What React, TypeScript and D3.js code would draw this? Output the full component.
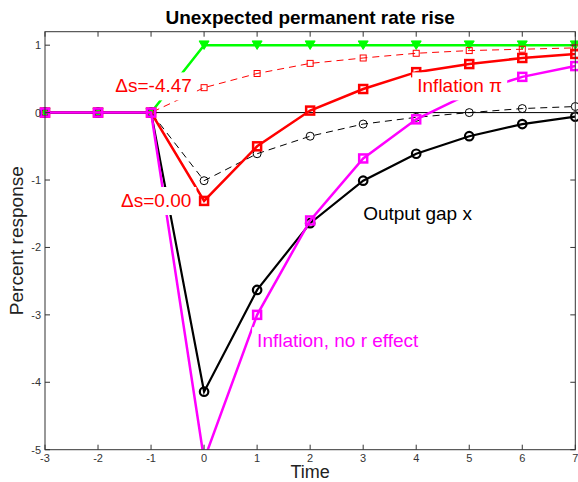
import React from "react";
import * as d3 from "d3";

// periods after the shock
const times = [-3, -2, -1, 0, 1, 2, 3, 4, 5, 6, 7];
// policy rate (green)
const rate = [0, 0, 0, 1, 1, 1, 1, 1, 1, 1, 1];
// inflation with exchange-rate jump, ds = -4.47 (red dashed)
const inflationDs = [0, 0, 0, 0.37, 0.58, 0.73, 0.81, 0.88, 0.92, 0.94, 0.96];
// output gap, ds = -4.47 (black dashed)
const outputGapDs = [0, 0, 0, -1.01, -0.61, -0.35, -0.17, -0.07, 0.0, 0.06, 0.09];
// inflation, ds = 0 (red solid)
const inflation = [0, 0, 0, -1.31, -0.5, 0.03, 0.35, 0.6, 0.72, 0.81, 0.87];
// output gap, ds = 0 (black solid)
const outputGap = [0, 0, 0, -4.14, -2.63, -1.64, -1.01, -0.61, -0.35, -0.17, -0.06];
// inflation without real-rate effect (magenta)
const inflationNoR = [0, 0, 0, -5.15, -3.0, -1.6, -0.68, -0.1, 0.28, 0.53, 0.69];

const xTicks = [-3, -2, -1, 0, 1, 2, 3, 4, 5, 6, 7];
const yTicks = [-5, -4, -3, -2, -1, 0, 1];

const W = 578;
const H = 482;
const FONT = "'Liberation Sans', Arial, Helvetica, sans-serif";

const x = d3.scaleLinear().domain([-3, 7]).range([45, 575.3]);
const y = d3.scaleLinear().domain([-5, 1.2]).range([449.7, 31.7]);

const line = d3.line<number>()
  .x((d, i) => x(times[i]))
  .y(d => y(d));

// annotation text with a white box behind it, like matlab's BackgroundColor
function Label({ tx, ty, text, color, anchor = "start" }) {
  const ref = React.useRef<SVGTextElement>(null);
  const [box, setBox] = React.useState(null);
  React.useLayoutEffect(() => {
    if (ref.current) {
      const b = ref.current.getBBox();
      setBox({ x: b.x, w: b.width });
    }
  }, [text]);
  const px = x(tx), py = y(ty);
  return (
    <g>
      {box && <rect x={box.x - 5} y={py - 20} width={box.w + 10} height={28} fill="white" />}
      <text ref={ref} x={px} y={py} fill={color} fontSize={19} textAnchor={anchor} fontFamily={FONT}>{text}</text>
    </g>
  );
}

function Series({ values, color, width, dash, marker, size }) {
  const pts = values.map((v, i) => [x(times[i]), y(v)]).filter(p => p[1] <= y(-5) + 0.5);
  return (
    <g>
      <path d={line(values)} fill="none" stroke={color} strokeWidth={width} strokeDasharray={dash} clipPath="url(#plotclip)" />
      {pts.map(([px, py], i) => {
        if (marker === "square")
          return <rect key={i} x={px - size / 2} y={py - size / 2} width={size} height={size} fill="none" stroke={color} strokeWidth={width} />;
        if (marker === "circle")
          return <circle key={i} cx={px} cy={py} r={size / 2} fill="none" stroke={color} strokeWidth={width} />;
        const h = size * 0.85;
        return <path key={i} d={`M${px - size / 2},${py - h / 2}L${px + size / 2},${py - h / 2}L${px},${py + h / 2}Z`} fill={color} stroke={color} strokeWidth={1} />;
      })}
    </g>
  );
}

export default function App() {
  const [x0, x1] = x.range();
  const [yb, yt] = y.range();
  const axisColor = "#333";
  return (
    <div style={{ position: "absolute", left: 0, top: 0 }}>
      <svg width={W} height={H} style={{ display: "block", background: "white" }}>
        <defs>
          <clipPath id="plotclip">
            <rect x={x0} y={yt} width={x1 - x0} height={yb - yt} />
          </clipPath>
        </defs>

        {/* zero line */}
        <line x1={x0} x2={x1} y1={y(0)} y2={y(0)} stroke="black" strokeWidth={1} />

        <Series values={rate} color="#00ff00" width={2.5} dash={null} marker="triangle" size={10} />
        <Series values={inflationDs} color="#ff0000" width={1} dash="7,5" marker="square" size={6} />
        <Series values={outputGapDs} color="black" width={1} dash="7,5" marker="circle" size={8} />
        <Series values={inflation} color="#ff0000" width={2.5} dash={null} marker="square" size={8} />
        <Series values={outputGap} color="black" width={2.2} dash={null} marker="circle" size={8.5} />
        <Series values={inflationNoR} color="#ff00ff" width={2.5} dash={null} marker="square" size={8} />

        {/* axes box with inward ticks */}
        <rect x={x0} y={yt} width={x1 - x0} height={yb - yt} fill="none" stroke={axisColor} strokeWidth={1} />
        {xTicks.map(t => (
          <g key={"x" + t}>
            <line x1={x(t)} x2={x(t)} y1={yb} y2={yb - 5} stroke={axisColor} />
            <line x1={x(t)} x2={x(t)} y1={yt} y2={yt + 5} stroke={axisColor} />
            <text x={x(t)} y={yb + 12} fontSize={11} textAnchor="middle" fill={axisColor} fontFamily={FONT}>{t}</text>
          </g>
        ))}
        {yTicks.map(t => (
          <g key={"y" + t}>
            <line x1={x0} x2={x0 + 5} y1={y(t)} y2={y(t)} stroke={axisColor} />
            <line x1={x1} x2={x1 - 5} y1={y(t)} y2={y(t)} stroke={axisColor} />
            <text x={x0 - 4} y={y(t) + 4} fontSize={11} textAnchor="end" fill={axisColor} fontFamily={FONT}>{t}</text>
          </g>
        ))}

        {/* annotations */}
        <Label tx={-0.23} ty={0.3} text="Δs=-4.47" color="#ff0000" anchor="end" />
        <Label tx={-0.24} ty={-1.4} text="Δs=0.00" color="#ff0000" anchor="end" />
        <Label tx={4.02} ty={0.3} text="Inflation π" color="#ff0000" />
        <Label tx={3.0} ty={-1.6} text="Output gap x" color="black" />
        <Label tx={1.0} ty={-3.48} text="Inflation, no r effect" color="#ff00ff" />

        <text x={(x0 + x1) / 2} y={24} fontSize={19} fontWeight="bold" textAnchor="middle" fontFamily={FONT}>Unexpected permanent rate rise</text>
        <text x={(x0 + x1) / 2} y={478} fontSize={18} textAnchor="middle" fill="#222" fontFamily={FONT}>Time</text>
        <text transform={`translate(23,${(yt + yb) / 2}) rotate(-90)`} fontSize={19} textAnchor="middle" fill="#222" fontFamily={FONT}>Percent response</text>
      </svg>
    </div>
  );
}
